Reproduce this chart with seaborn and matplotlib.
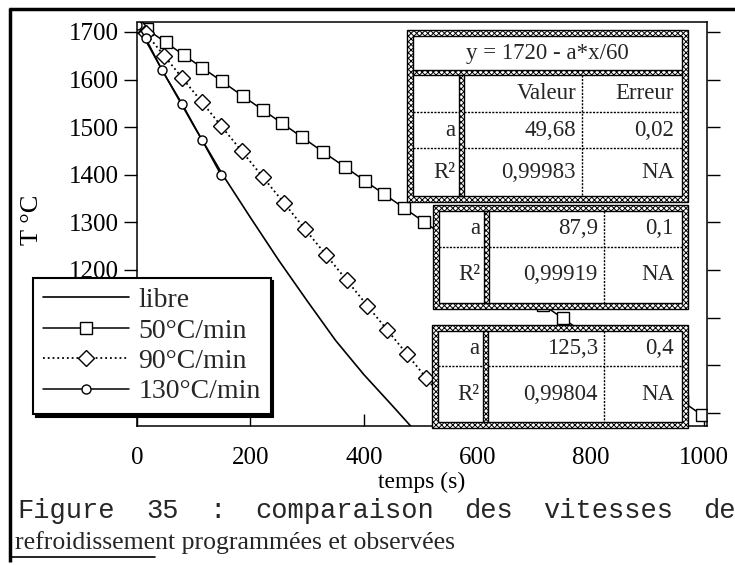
import pandas as pd
import matplotlib.pyplot as plt
import seaborn as sns
from matplotlib.patches import Rectangle

# free cooling (no programme)
t_libre = [0, 50, 100, 150, 200, 250, 300, 350, 400, 450, 490]
T_libre = [1715, 1608, 1503, 1402, 1310, 1220, 1135, 1052, 980, 915, 862]

# 50 C/min
t_50 = [0, 17, 51, 83, 115, 150, 187, 222, 256, 291, 328, 366, 402, 436, 471,
        506, 541, 576, 611, 646, 681, 716, 751, 786, 821, 856, 891, 926, 961, 996]
T_50 = [1715, 1706, 1678, 1651, 1625, 1596, 1565, 1536, 1508, 1479, 1448, 1417, 1387, 1359, 1330,
        1301, 1272, 1243, 1214, 1185, 1156, 1127, 1098, 1069, 1040, 1011, 982, 953, 924, 895]

# 90 C/min
t_90 = [0, 15, 48, 80, 115, 148, 185, 222, 259, 296, 333, 370, 406, 441, 476, 510, 545, 580]
T_90 = [1715, 1698, 1650, 1603, 1552, 1503, 1449, 1395, 1341, 1286, 1232, 1178, 1125, 1074,
        1023, 973, 922, 870]

# 130 C/min
t_130 = [0, 15, 44, 80, 115, 148]
T_130 = [1715, 1688, 1620, 1548, 1472, 1400]

labels = ['libre', '50°C/min', '90°C/min', '130°C/min']
yticks = [900, 1000, 1100, 1200, 1300, 1400, 1500, 1600, 1700]
xticks = [0, 200, 400, 600, 800, 1000]

fit_title = 'y = 1720 - a*x/60'
fit_a = ['49,68', '87,9', '125,3']
fit_err = ['0,02', '0,1', '0,4']
fit_r2 = ['0,99983', '0,99919', '0,99804']

sns.set_theme(style='white')
plt.rcParams['font.family'] = ['Liberation Serif', 'DejaVu Serif']
plt.rcParams['hatch.linewidth'] = 0.7

fig = plt.figure(figsize=(7.35, 5.65), dpi=100)
ax = fig.add_axes([137 / 735, 1 - 426 / 565, 570 / 735, 404 / 565])

sns.lineplot(x=t_libre, y=T_libre, ax=ax, color='black', lw=1.2, label=labels[0], sort=False)
sns.lineplot(x=t_50, y=T_50, ax=ax, color='black', lw=1.1, marker='s', markersize=9,
             markerfacecolor='white', markeredgecolor='black', markeredgewidth=1,
             label=labels[1], sort=False)
sns.lineplot(x=t_90, y=T_90, ax=ax, color='black', lw=1.3, linestyle=':', marker='D',
             markersize=8, markerfacecolor='white', markeredgecolor='black',
             markeredgewidth=1, label=labels[2], sort=False)
sns.lineplot(x=t_130, y=T_130, ax=ax, color='black', lw=1.1, marker='o', markersize=6.5,
             markerfacecolor='white', markeredgecolor='black', markeredgewidth=1,
             label=labels[3], sort=False)

ax.set_xlim(0, 1005)
ax.set_ylim(872, 1721)
ax.set_xticks(xticks)
ax.set_yticks(yticks)
ax.set_yticklabels([str(v) if v >= 1200 else '' for v in yticks])
ax.tick_params(axis='y', which='both', left=True, right=True, direction='out',
               length=9.5, width=1, labelsize=18, pad=3.5, colors='black')
ax.tick_params(axis='x', which='both', bottom=True, top=False, direction='in',
               length=8.5, width=1, labelsize=18, pad=15, colors='black')
ax.set_xlabel('temps (s)', fontsize=17, labelpad=2, color='black')
ax.set_ylabel('T °C', fontsize=19, color='black')
ax.yaxis.set_label_coords(-0.165, 0.51)
for side in ['left', 'top']:
    ax.spines[side].set_linestyle((0, (1.5, 1)))
for side in ax.spines:
    ax.spines[side].set_color('black')
    ax.spines[side].set_linewidth(1.1)

leg = ax.legend(loc='upper left', bbox_to_anchor=(33 / 735, 1 - 278 / 565),
                bbox_transform=fig.transFigure, fontsize=20, frameon=True,
                fancybox=False, shadow={'color': 'black', 'alpha': 1},
                borderpad=0.35, handlelength=3.1, handletextpad=0.35,
                labelspacing=0.18, borderaxespad=0)
leg.get_frame().set_edgecolor('black')
leg.get_frame().set_linewidth(1.5)
leg.get_frame().set_alpha(1)

# overlay in pixel coordinates for the fit tables, frame and caption
ov = fig.add_axes([0, 0, 1, 1], zorder=10)
ov.set_xlim(0, 735)
ov.set_ylim(565, 0)
ov.axis('off')
ov.patch.set_visible(False)


def band_rect(x, y, w, h):
    ov.add_patch(Rectangle((x, y), w, h, facecolor='white', edgecolor='black',
                           hatch='xxxxxx', lw=1))


def table(x0, y0, x1, y1, col_x, row_y, rows, title=None, title_y=None):
    band_rect(x0, y0, x1 - x0, y1 - y0)
    ov.add_patch(Rectangle((x0 + 6, y0 + 6), x1 - x0 - 12, y1 - y0 - 12,
                           facecolor='white', edgecolor='black', lw=1))
    top = y0 + 6
    if title is not None:
        band_rect(x0 + 6, title_y - 2.5, x1 - x0 - 12, 5)
        ov.text((x0 + x1) / 2, (top + title_y) / 2, title, ha='center', va='center',
                fontsize=16.5)
        top = title_y + 2.5
    band_rect(col_x[0] - 2.5, top, 5, y1 - 6 - top)
    ov.plot([col_x[1], col_x[1]], [top, y1 - 6], color='black', lw=1, ls=(0, (1.5, 1)))
    for ry in row_y[1:-1]:
        ov.plot([col_x[0] + 2.5, x1 - 6], [ry, ry], color='black', lw=1, ls=(0, (1.5, 1)))
        ov.plot([x0 + 6, col_x[0] - 2.5], [ry, ry], color='black', lw=1, ls=(0, (1.5, 1)))
    rights = [col_x[0] - 7, col_x[1] - 6, x1 - 14]
    for i, row in enumerate(rows):
        cy = (row_y[i] + row_y[i + 1]) / 2
        for j, txt in enumerate(row):
            ov.text(rights[j], cy, txt, ha='right', va='center', fontsize=16.5)


table(407, 30, 688, 202, [462, 582], [75, 112, 148, 196],
      [['', 'Valeur', 'Erreur'], ['a', fit_a[0], fit_err[0]], ['R²', fit_r2[0], 'NA']],
      title=fit_title, title_y=72)
table(433, 205, 688, 309, [487, 604], [211, 247, 303],
      [['a', fit_a[1], fit_err[1]], ['R²', fit_r2[1], 'NA']])
table(432, 325, 688, 428, [486, 604], [331, 366, 422],
      [['a', fit_a[2], fit_err[2]], ['R²', fit_r2[2], 'NA']])

# page frame
ov.plot([10, 10], [8, 562], color='black', lw=2.5, solid_capstyle='butt')
ov.plot([9, 735], [9, 9], color='black', lw=2.5, solid_capstyle='butt')
ov.plot([10, 155], [557, 557], color='black', lw=1.2)

# caption
words = ['Figure', '35', ':', 'comparaison', 'des', 'vitesses', 'de']
word_x = [17, 146, 209, 255, 464, 543, 703]
for w, x in zip(words, word_x):
    ov.text(x, 511, w, ha='left', va='center', fontsize=19.5,
            family=['Liberation Mono', 'DejaVu Sans Mono'])
ov.text(15, 543, 'refroidissement programmées et observées', ha='left', va='center',
        fontsize=18.5)

fig.savefig('out.png', dpi=100)
